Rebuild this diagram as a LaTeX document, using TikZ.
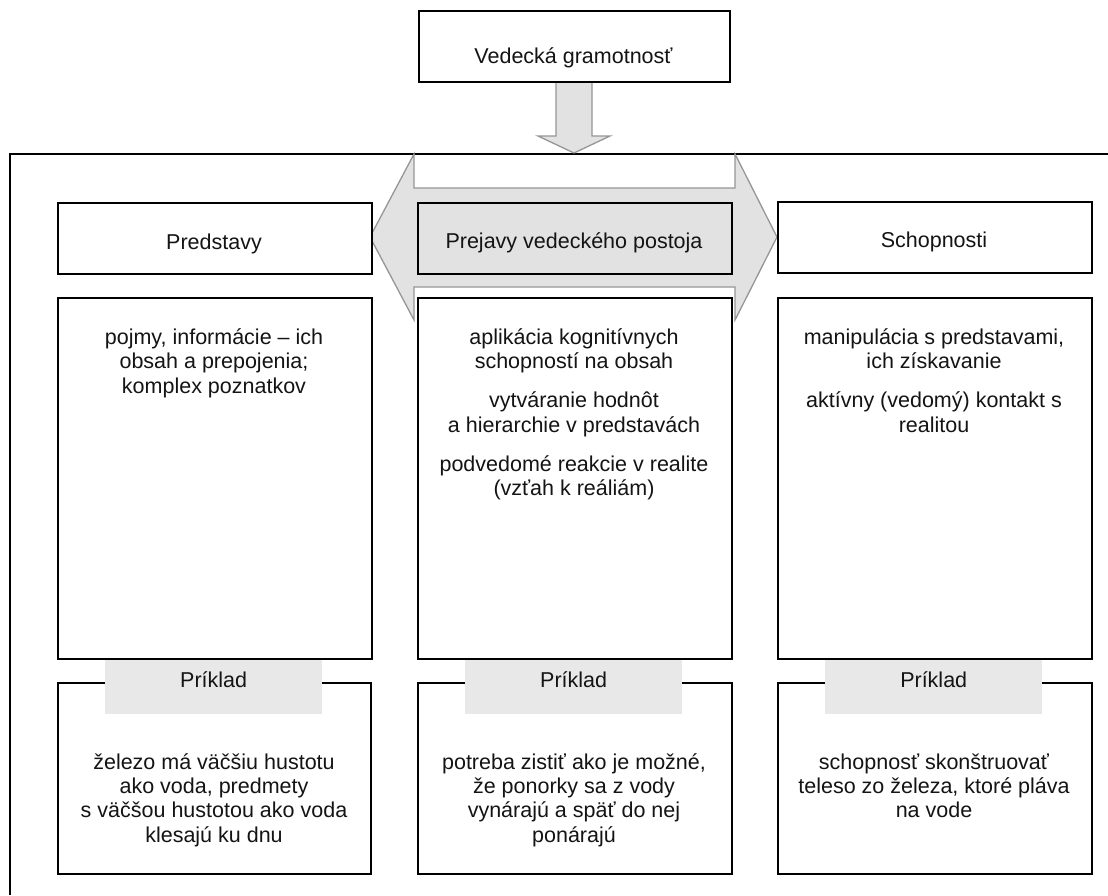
\documentclass[tikz,border=0pt]{standalone}
\usepackage{fontspec}
\setmainfont{Liberation Sans}
\definecolor{arrowfill}{RGB}{226,226,226}
\definecolor{arrowline}{RGB}{150,150,150}
\definecolor{labelfill}{RGB}{232,232,232}
\definecolor{inkc}{RGB}{20,20,20}
\newcommand{\mlines}[1]{\begin{tabular}[t]{@{}c@{}}#1\end{tabular}}
\begin{document}
\begin{tikzpicture}[x=1pt,y=-1pt,
  boxst/.style={draw=black, line width=1.8pt, fill=white, inner sep=0pt},
  shadedbox/.style={draw=black, line width=1.8pt, fill=arrowfill, inner sep=0pt},
  labelst/.style={fill=labelfill, draw=none, inner sep=0pt},
  bigarrow/.style={draw=arrowline, line width=1.3pt, fill=arrowfill, line join=miter},
  txt/.style={font=\fontsize{21.5}{24.6}\selectfont, text=inkc, inner sep=0pt, anchor=base},
  extxt/.style={txt, font=\fontsize{21.5}{24.4}\selectfont},
  frame/.style={draw=black, line width=1.8pt}
]
\useasboundingbox (0,0) rectangle (1108,895);
\fill[white] (0,0) rectangle (1108,895);

% outer frame (left and top edges)
\draw[frame] (1108,154) -- (10,154) -- (10,895);

% down arrow
\draw[bigarrow] (556,81) -- (592,81) -- (592,136) -- (610,136) -- (574,153) -- (538,136) -- (556,136) -- cycle;

% top box
\node[boxst, minimum width=311, minimum height=71, anchor=north west] (top) at (418,10) {};
\node[txt] (toptext) at (573.5,63) {Vedecká gramotnosť};

% double arrow
\draw[bigarrow] (414,154) -- (414,188) -- (735,188) -- (735,154) -- (777,237) -- (735,320) -- (735,287) -- (414,287) -- (414,320) -- (370,237) -- cycle;

% heading boxes
\node[boxst, minimum width=314, minimum height=71, anchor=north west] (pred) at (57,202) {};
\node[txt] at (214,249) {Predstavy};
\node[shadedbox, minimum width=314, minimum height=71, anchor=north west] (prej) at (417,202) {};
\node[txt] at (574,248) {Prejavy vedeckého postoja};
\node[boxst, minimum width=314, minimum height=71, anchor=north west] (schop) at (777,201) {};
\node[txt] at (934,247) {Schopnosti};

% content boxes
\node[boxst, minimum width=314, minimum height=361, anchor=north west] (c1) at (57,297) {};
\node[boxst, minimum width=314, minimum height=361, anchor=north west] (c2) at (417,297) {};
\node[boxst, minimum width=314, minimum height=361, anchor=north west] (c3) at (777,297) {};

\node[txt] at (214,344) {\mlines{pojmy, informácie – ich\\obsah a prepojenia;\\komplex poznatkov}};
\node[txt] at (574,344) {\mlines{aplikácia kognitívnych\\schopností na obsah\\[14.4pt]vytváranie hodnôt\\a hierarchie v predstavách\\[14.4pt]podvedomé reakcie v realite\\(vzťah k reáliám)}};
\node[txt] at (934,344) {\mlines{manipulácia s predstavami,\\ich získavanie\\[14.4pt]aktívny (vedomý) kontakt s\\realitou}};

% example boxes
\node[boxst, minimum width=313, minimum height=191, anchor=north west] (e1) at (57,682) {};
\node[boxst, minimum width=314, minimum height=191, anchor=north west] (e2) at (417,682) {};
\node[boxst, minimum width=314, minimum height=191, anchor=north west] (e3) at (777,682) {};

% Príklad labels
\node[labelst, minimum width=217, minimum height=54, anchor=north west] (l1) at (105,660) {};
\node[labelst, minimum width=217, minimum height=54, anchor=north west] (l2) at (465,660) {};
\node[labelst, minimum width=217, minimum height=54, anchor=north west] (l3) at (825,660) {};
\node[txt] at (l1.center |- 0,687) {Príklad};
\node[txt] at (l2.center |- 0,687) {Príklad};
\node[txt] at (l3.center |- 0,687) {Príklad};

\node[extxt] at (214,769) {\mlines{železo má väčšiu hustotu\\ako voda, predmety\\s väčšou hustotou ako voda\\klesajú ku dnu}};
\node[extxt] at (574,769) {\mlines{potreba zistiť ako je možné,\\že ponorky sa z vody\\vynárajú a späť do nej\\ponárajú}};
\node[extxt] at (934,769) {\mlines{schopnosť skonštruovať\\teleso zo železa, ktoré pláva\\na vode}};
\end{tikzpicture}
\end{document}
